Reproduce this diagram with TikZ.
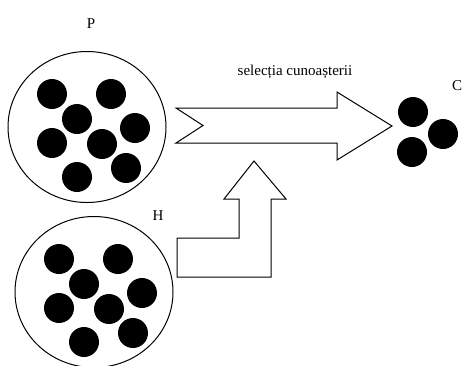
\documentclass[tikz,border=0pt]{standalone}
\usepackage{fontspec}
\setmainfont{Liberation Serif}
\usetikzlibrary{shapes.geometric,positioning,calc}
\tikzstyle{pool} = [ellipse, draw, line width=1pt, minimum width=158pt, minimum height=151pt, inner sep=0pt]
\tikzstyle{dot} = [circle, fill=black, draw=none, minimum size=30pt, inner sep=0pt]
\tikzstyle{lbl} = [font=\fontsize{15}{17}\selectfont, inner sep=0pt]
\tikzstyle{blockarrow} = [draw, line width=1pt, line join=miter, fill=white]

\begin{document}
\begin{tikzpicture}[x=1pt,y=-1pt]
\useasboundingbox (0,0) rectangle (465,365);

\node (poolP) [pool] at (87,127) {};
\node (poolH) [pool] at (94,292) {};

\node (labP) [lbl] at (91,24) {P};
\node (labH) [lbl] at (158,216) {H};
\node (labC) [lbl] at (457,86) {C};
\node (labsel) [lbl] at (295,72) {selecția cunoașterii};

%dots
\foreach \dx/\dy in {-35/-33, 24/-33, -10/-8, 48/1, -35/16, 15/17, 39/41, -10/50}{
  \node [dot] at ($(poolP)+(\dx,\dy)$) {};
  \node [dot] at ($(poolH)+(\dx,\dy)$) {};
}
\node (c1) [dot] at (413,112) {};
\node (c2) [dot] at (443,134) {};
\node (c3) [dot] at (412,152) {};

%arrows
\draw [blockarrow] (176,108) -- (337,108) -- (337,92) -- (392,126) -- (337,160)
  -- (337,143) -- (176,143) -- (203,125.5) -- cycle;
\draw [blockarrow] (177,238) -- (239,238) -- (239,199) -- (224,199) -- (254,161)
  -- (286,199) -- (271,199) -- (271,277) -- (177,277) -- cycle;

\end{tikzpicture}
\end{document}
